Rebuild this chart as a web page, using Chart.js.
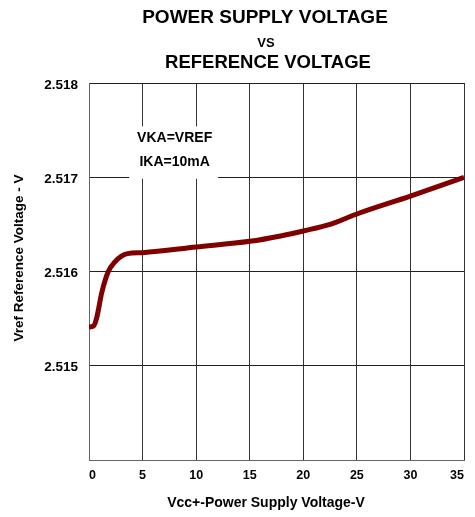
<!DOCTYPE html>
<html>
<head>
<meta charset="utf-8">
<script src="https://cdn.jsdelivr.net/npm/chart.js@4"></script>
<style>
html,body{margin:0;padding:0;background:#fff;}
#wrap{position:relative;width:475px;height:517px;}
</style>
</head>
<body>
<div id="wrap"><canvas id="c" width="475" height="517"></canvas></div>
<script>
// ---- data ----
const supplyVoltage = [0, 0.4, 0.7, 1.2, 1.8, 2.4, 3.0, 3.6, 5, 10, 15, 18, 20, 22.5, 25, 30, 35];
const vref = [2.51541, 2.51542, 2.51550, 2.51578, 2.51600, 2.51610, 2.51616, 2.51619, 2.51620, 2.51626, 2.51632, 2.51638, 2.51643, 2.51650, 2.51661, 2.51680, 2.51700];
const xTicks = [0, 5, 10, 15, 20, 25, 30, 35];
const yTicks = [2.514, 2.515, 2.516, 2.517, 2.518];
const titleLines = ["POWER SUPPLY VOLTAGE", "VS", "REFERENCE VOLTAGE"];
const xTitle = "Vcc+-Power Supply Voltage-V";
const yTitle = "Vref Reference Voltage - V";
const noteLines = ["VKA=VREF", "IKA=10mA"];
const noteBox = {x0: 3.75, x1: 12.05, y0: 2.51700, y1: 2.51754};

const FONT = "'Liberation Sans', Arial, sans-serif";

const decor = {
  id: 'decor',
  beforeDatasetsDraw(chart) {
    const {ctx, scales: {x, y}} = chart;
    const l = x.getPixelForValue(noteBox.x0), r = x.getPixelForValue(noteBox.x1);
    const t = y.getPixelForValue(noteBox.y1), b = y.getPixelForValue(noteBox.y0);
    ctx.save();
    ctx.fillStyle = '#fff';
    ctx.fillRect(l, t, r - l, b - t + 1.5);
    ctx.fillStyle = '#000';
    ctx.font = 'bold 14px ' + FONT;
    ctx.textAlign = 'center';
    ctx.textBaseline = 'middle';
    const cx = (l + r) / 2 + 1;
    ctx.fillText(noteLines[0], cx, t + (b - t) * 0.23);
    ctx.fillText(noteLines[1], cx, t + (b - t) * 0.71);
    ctx.restore();
  },
  afterDraw(chart) {
    const {ctx} = chart;
    ctx.save();
    ctx.fillStyle = '#000';
    ctx.textAlign = 'center';
    ctx.textBaseline = 'alphabetic';
    ctx.font = 'bold 19px ' + FONT;
    ctx.fillText(titleLines[0], 265, 23);
    ctx.font = 'bold 13px ' + FONT;
    ctx.fillText(titleLines[1], 266, 47);
    ctx.font = 'bold 18.5px ' + FONT;
    ctx.fillText(titleLines[2], 268, 68);
    ctx.font = 'bold 14px ' + FONT;
    ctx.textBaseline = 'middle';
    ctx.fillText(xTitle, 266, 503);
    ctx.translate(19, 258);
    ctx.rotate(-Math.PI / 2);
    ctx.font = 'bold 13.5px ' + FONT;
    ctx.fillText(yTitle, 0, 0);
    ctx.restore();
  }
};

new Chart(document.getElementById('c'), {
  type: 'line',
  data: {
    datasets: [{
      data: supplyVoltage.map((v, i) => ({x: v, y: vref[i]})),
      borderColor: '#800000',
      borderWidth: 5,
      pointRadius: 0,
      cubicInterpolationMode: 'monotone',
      fill: false,
      borderCapStyle: 'butt',
      borderJoinStyle: 'round'
    }]
  },
  options: {
    responsive: false,
    animation: false,
    devicePixelRatio: 1,
    layout: {padding: {left: 0, top: 83, right: 11, bottom: 0}},
    plugins: {legend: {display: false}, tooltip: {enabled: false}, title: {display: false}},
    scales: {
      x: {
        type: 'linear', min: 0, max: 35,
        afterBuildTicks: s => { s.ticks = xTicks.map(v => ({value: v})); },
        ticks: {color: '#000', font: {family: FONT, size: 12.5, weight: 'bold'}, padding: 8, maxRotation: 0, align: 'inner'},
        grid: {color: '#333', lineWidth: 1, tickLength: 0, drawTicks: false},
        border: {color: '#666', width: 1},
        afterFit: s => { s.height = 57; }
      },
      y: {
        type: 'linear', min: 2.514, max: 2.518,
        afterBuildTicks: s => { s.ticks = yTicks.map(v => ({value: v})); },
        ticks: {color: '#000', font: {family: FONT, size: 13.5, weight: 'bold'}, padding: 11, labelOffset: 2,
          callback: v => (Math.abs(v - 2.514) < 1e-9 ? '' : v.toFixed(3))},
        grid: {color: '#222', lineWidth: 1, tickLength: 0, drawTicks: false},
        border: {color: '#666', width: 1},
        afterFit: s => { s.width = 89; }
      }
    }
  },
  plugins: [decor]
});
</script>
</body>
</html>
